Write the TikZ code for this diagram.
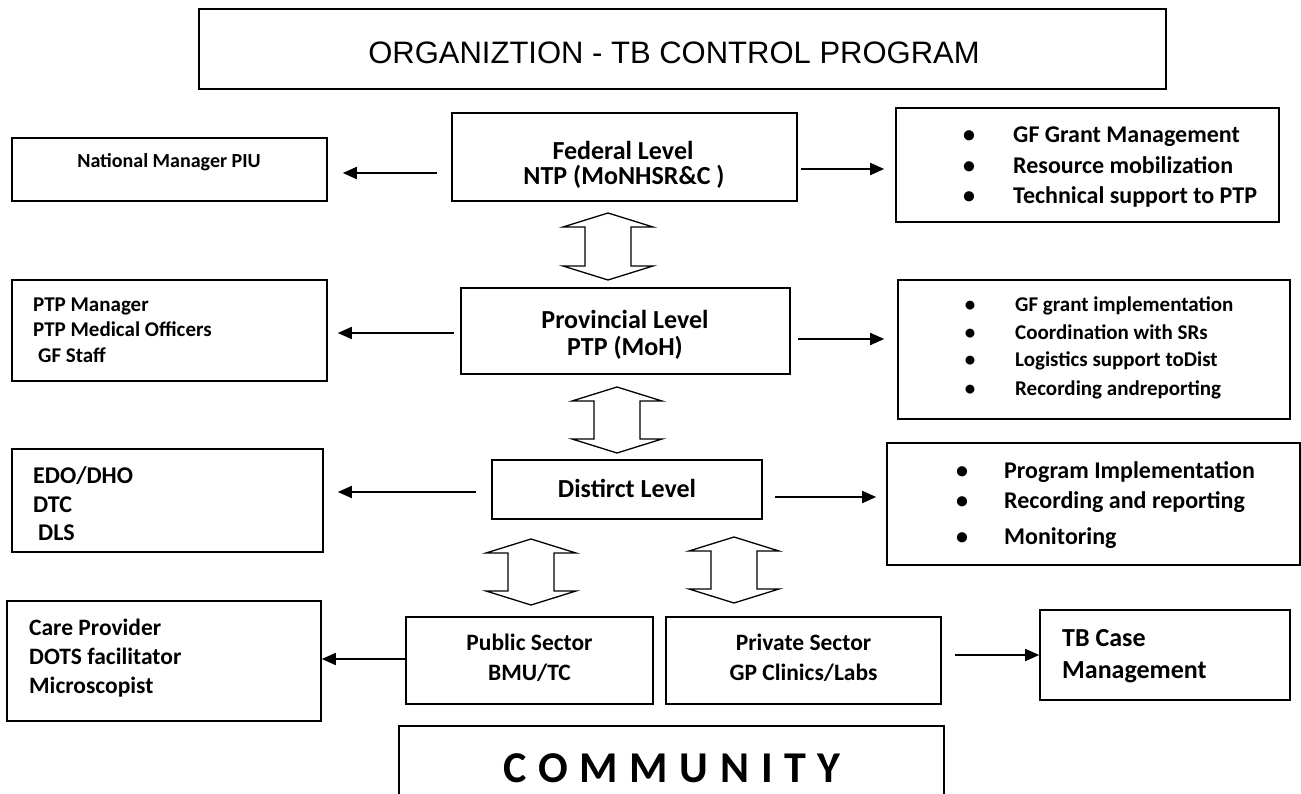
\documentclass[tikz,border=0pt]{standalone}
\usepackage{fontspec}
\setmainfont{Carlito}
\newfontfamily\arialfont{Liberation Sans}
\usetikzlibrary{arrows.meta}
\newcommand\fsz[1]{\fontsize{#1}{#1}\selectfont}
% hollow two-headed block arrow: centre x, top y, bottom y
\newcommand\hollowarrow[3]{%
  \draw[hollow] (#1,#2) -- (#1+45,#2+14) -- (#1+23,#2+14) -- (#1+23,#3-14)
    -- (#1+45,#3-14) -- (#1,#3) -- (#1-45,#3-14) -- (#1-23,#3-14)
    -- (#1-23,#2+14) -- (#1-45,#2+14) -- cycle;}
\begin{document}
\begin{tikzpicture}[x=1pt,y=-1pt,
  box/.style={draw, line width=1.6pt, rectangle, inner sep=0pt},
  cl/.style={inner sep=0pt, anchor=base, font=\bfseries\fsz{#1}},
  ln/.style={inner sep=0pt, anchor=base west, font=\bfseries\fsz{#1}},
  arr/.style={line width=1.7pt, -{Triangle[length=14pt,width=12pt]}},
  hollow/.style={line width=1.3pt, line join=miter}]
\useasboundingbox (0,0) rectangle (1301,794);

% frames
\node[box, minimum width=967pt, minimum height=80pt]  (title) at (682.5,49) {};
\node[box, minimum width=315pt, minimum height=63pt]  (npiu)  at (169.5,169.5) {};
\node[box, minimum width=345pt, minimum height=88pt]  (fed)   at (624.5,157) {};
\node[box, minimum width=383pt, minimum height=114pt] (fedroles) at (1087.5,165) {};
\node[box, minimum width=315pt, minimum height=101pt] (ptpm)  at (169.5,330.5) {};
\node[box, minimum width=329pt, minimum height=86pt]  (prov)  at (625.5,331) {};
\node[box, minimum width=392pt, minimum height=139pt] (provroles) at (1094,349.5) {};
\node[box, minimum width=311pt, minimum height=103pt] (edo)   at (167.5,500.5) {};
\node[box, minimum width=270pt, minimum height=59pt]  (dist)  at (627,489.5) {};
\node[box, minimum width=413pt, minimum height=122pt] (distroles) at (1093.5,504) {};
\node[box, minimum width=314pt, minimum height=120pt] (care)  at (164,661) {};
\node[box, minimum width=247pt, minimum height=87pt]  (pub)   at (529.5,660.5) {};
\node[box, minimum width=275pt, minimum height=87pt]  (priv)  at (803.5,660.5) {};
\node[box, minimum width=250pt, minimum height=90pt]  (tb)    at (1165,655) {};
\node[box, minimum width=545pt, minimum height=114pt] (comm)  at (671.5,783) {};

% texts
\node[inner sep=0pt, anchor=base, font=\arialfont\fsz{31}] (titletxt) at (674,64) {ORGANIZTION - TB CONTROL PROGRAM};
\node[cl=20] (npiutxt) at (169,168) {National Manager PIU};
\node[cl=26] (fed1) at (623,160) {Federal Level};
\node[cl=26] (fed2) at (624,185) {NTP (MoNHSR\&C )};
\node[cl=26] (prov1) at (625,328) {Provincial Level};
\node[cl=26] (prov2) at (625,355) {PTP (MoH)};
\node[cl=26] (dist1) at (627,497) {Distirct Level};
\node[ln=21] (ptpm1) at (33,312) {PTP Manager};
\node[ln=21] (ptpm2) at (33,337) {PTP Medical Officers};
\node[ln=21] (ptpm3) at (38,362) {GF Staff};
\node[ln=24] (edo1) at (33,483) {EDO/DHO};
\node[ln=24] (edo2) at (33,512) {DTC};
\node[ln=24] (edo3) at (38,540) {DLS};
\node[ln=23.5] (care1) at (29,635) {Care Provider};
\node[ln=23.5] (care2) at (29,664) {DOTS facilitator};
\node[ln=23.5] (care3) at (29,693) {Microscopist};
\node[cl=23.5] (pub1) at (529.5,650) {Public Sector};
\node[cl=23.5] (pub2) at (529.5,680) {BMU/TC};
\node[cl=23.5] (priv1) at (803.5,650) {Private Sector};
\node[cl=23.5] (priv2) at (803.5,680) {GP Clinics/Labs};
\node[ln=26] (tb1) at (1062,646) {TB Case};
\node[ln=26] (tb2) at (1062,678) {Management};
\node[cl=44] (commtxt) at (672,782) {\spaceskip=11.7pt C O M M U N I T Y};

% bullet lists
\foreach \y/\t in {143/GF Grant Management, 174/Resource mobilization, 204/Technical support to PTP} {
  \node[cl=24] (fb\y) at (969,\y) {•};
  \node[ln=24] (ft\y) at (1013,\y) {\t};
}
\foreach \y/\t in {312/GF grant implementation, 339/Coordination with SRs, 366/Logistics support toDist, 395/Recording andreporting} {
  \node[cl=21] (pb\y) at (970,\y) {•};
  \node[ln=21] (pt\y) at (1015,\y) {\t};
}
\foreach \y/\t in {478/Program Implementation, 508/Recording and reporting, 544/Monitoring} {
  \node[cl=24] (db\y) at (962,\y) {•};
  \node[ln=24] (dt\y) at (1004,\y) {\t};
}

% arrow rows
\coordinate (row1l) at (0,173);
\coordinate (row1r) at (0,169);
\coordinate (row2l) at (0,333);
\coordinate (row2r) at (0,339);
\coordinate (row3l) at (0,492);
\coordinate (row3r) at (0,497);
\coordinate (row4l) at (0,659);
\coordinate (row4r) at (0,655);

\draw[arr, shorten <=14pt, shorten >=15pt] (fed.west |- row1l) -- (npiu.east |- row1l);
\draw[arr, shorten <=3pt, shorten >=11pt] (fed.east |- row1r) -- (fedroles.west |- row1r);
\draw[arr, shorten <=6pt, shorten >=10pt] (prov.west |- row2l) -- (ptpm.east |- row2l);
\draw[arr, shorten <=7pt, shorten >=13pt] (prov.east |- row2r) -- (provroles.west |- row2r);
\draw[arr, shorten <=15pt, shorten >=14pt] (dist.west |- row3l) -- (edo.east |- row3l);
\draw[arr, shorten <=12pt, shorten >=10pt] (dist.east |- row3r) -- (distroles.west |- row3r);
\draw[arr] (pub.west |- row4l) -- (care.east |- row4l);
\draw[arr, shorten <=13pt] (priv.east |- row4r) -- (tb.west |- row4r);

% two-way links between levels
\hollowarrow{608}{213}{280}
\hollowarrow{617}{387}{453}
\hollowarrow{531}{539}{605}
\hollowarrow{734}{537}{603}
\end{tikzpicture}
\end{document}
